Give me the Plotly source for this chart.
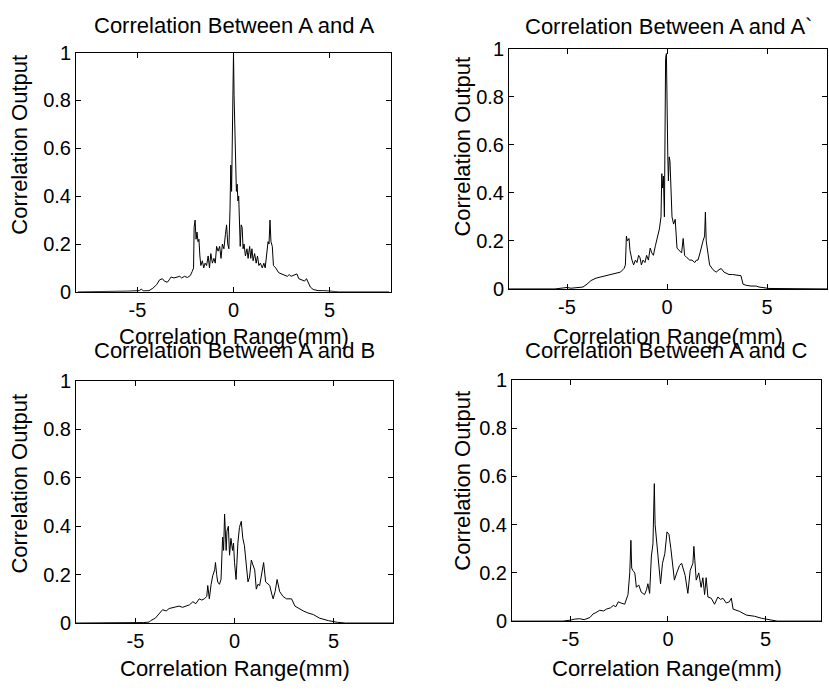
import plotly.graph_objects as go

# ---------------- data ----------------
x_aa = [-8.1, -6.0, -5.5, -4.9, -4.8, -4.7, -4.4, -4.2, -4.0, -3.85, -3.7, -3.6, -3.45, -3.35,
        -3.25, -3.1, -2.95, -2.8, -2.7, -2.55, -2.4, -2.25, -2.15, -2.08, -2.05, -2.0, -1.95,
        -1.9, -1.85, -1.8, -1.75, -1.7, -1.62, -1.55, -1.48, -1.4, -1.32, -1.25, -1.18, -1.1,
        -1.02, -0.95, -0.88, -0.8, -0.72, -0.65, -0.58, -0.5, -0.42, -0.36, -0.3, -0.24, -0.18,
        -0.14, -0.1, -0.06, -0.03, 0.0, 0.03, 0.07, 0.11, 0.15, 0.19, 0.23, 0.27, 0.31, 0.35,
        0.4, 0.45, 0.5, 0.55, 0.62, 0.7, 0.76, 0.84, 0.9, 0.96, 1.02, 1.1, 1.18, 1.25, 1.32,
        1.4, 1.5, 1.58, 1.65, 1.75, 1.8, 1.85, 1.9, 1.95, 2.02, 2.08, 2.2, 2.35, 2.5, 2.65, 2.8,
        2.9, 3.0, 3.15, 3.3, 3.4, 3.55, 3.7, 3.8, 3.9, 4.0, 4.15, 4.4, 4.7, 5.0, 5.5, 8.1]
y_aa = [0.0, 0.0, 0.003, 0.005, 0.012, 0.004, 0.005, 0.015, 0.03, 0.05, 0.055, 0.045, 0.04, 0.05,
        0.062, 0.058, 0.062, 0.065, 0.058, 0.065, 0.06, 0.068, 0.085, 0.1, 0.27, 0.3, 0.22,
        0.25, 0.21, 0.22, 0.15, 0.11, 0.13, 0.1, 0.12, 0.11, 0.15, 0.1, 0.16, 0.12,
        0.14, 0.12, 0.19, 0.17, 0.19, 0.14, 0.2, 0.18, 0.24, 0.28, 0.2, 0.18, 0.35,
        0.53, 0.42, 0.6, 0.75, 1.0, 0.82, 0.72, 0.55, 0.42, 0.45, 0.38, 0.4, 0.22, 0.19,
        0.28, 0.27, 0.18, 0.2, 0.15, 0.18, 0.14, 0.19, 0.14, 0.18, 0.13, 0.16, 0.12, 0.15, 0.11,
        0.12, 0.1, 0.12, 0.1, 0.19, 0.21, 0.2, 0.3, 0.21, 0.19, 0.11, 0.1, 0.08, 0.075, 0.07, 0.065,
        0.072, 0.065, 0.07, 0.075, 0.055, 0.05, 0.045, 0.055, 0.04, 0.02, 0.01, 0.005, 0.005, 0.003, 0.0, 0.0]

x_aa2 = [-8.0, -5.6, -5.2, -5.0, -4.8, -4.5, -4.2, -4.0, -3.8, -3.55, -3.3, -3.05, -2.8, -2.55,
         -2.33, -2.15, -2.08, -2.03, -1.98, -1.9, -1.85, -1.75, -1.67, -1.58, -1.5, -1.42, -1.35,
         -1.28, -1.2, -1.1, -1.02, -0.93, -0.84, -0.76, -0.68, -0.58, -0.48, -0.38, -0.3, -0.26,
         -0.22, -0.18, -0.13, -0.07, -0.03, 0.0, 0.04, 0.07, 0.11, 0.15, 0.2, 0.25, 0.33, 0.41,
         0.5, 0.6, 0.73, 0.81, 0.88, 1.0, 1.14, 1.25, 1.39, 1.47, 1.55, 1.65, 1.72, 1.8, 1.88,
         1.92, 1.96, 2.04, 2.13, 2.3, 2.46, 2.6, 2.71, 2.85, 2.96, 3.1, 3.28, 3.5, 3.7, 3.8, 3.96,
         4.2, 4.46, 4.6, 4.8, 5.1, 8.0]
y_aa2 = [0.0, 0.0, 0.004, 0.006, 0.003, 0.004, 0.008, 0.02, 0.035, 0.045, 0.05, 0.055, 0.06, 0.065,
         0.07, 0.085, 0.1, 0.22, 0.2, 0.21, 0.16, 0.12, 0.1, 0.12, 0.11, 0.14, 0.13,
         0.1, 0.12, 0.11, 0.14, 0.12, 0.17, 0.15, 0.14, 0.18, 0.21, 0.25, 0.3, 0.48,
         0.42, 0.47, 0.3, 0.96, 0.98, 0.7, 0.55, 0.45, 0.55, 0.53, 0.4, 0.3, 0.27, 0.29,
         0.17, 0.16, 0.15, 0.21, 0.14, 0.13, 0.12, 0.12, 0.11, 0.12, 0.12, 0.15, 0.18, 0.2, 0.22,
         0.32, 0.2, 0.16, 0.1, 0.08, 0.07, 0.08, 0.085, 0.07, 0.065, 0.06, 0.06, 0.058, 0.055, 0.02, 0.015,
         0.012, 0.012, 0.008, 0.005, 0.002, 0.0]

x_ab = [-8.0, -5.0, -4.6, -4.3, -4.23, -4.0, -3.8, -3.63, -3.45, -3.3, -3.05, -2.8, -2.62, -2.45,
        -2.28, -2.1, -1.95, -1.78, -1.65, -1.52, -1.4, -1.35, -1.27, -1.18, -1.1, -1.0, -0.96,
        -0.9, -0.85, -0.76, -0.68, -0.6, -0.55, -0.5, -0.46, -0.42, -0.38, -0.31, -0.25, -0.18,
        -0.1, -0.05, 0.0, 0.08, 0.17, 0.25, 0.34, 0.42, 0.5, 0.59, 0.68, 0.76, 0.85, 0.93, 1.02,
        1.1, 1.18, 1.27, 1.38, 1.47, 1.57, 1.68, 1.78, 1.88, 1.95, 2.05, 2.15, 2.28, 2.45, 2.62,
        2.75, 2.88, 3.05, 3.25, 3.47, 3.7, 3.98, 4.3, 4.74, 5.2, 5.6, 8.0]
y_ab = [0.0, 0.0, 0.002, 0.004, 0.01, 0.02, 0.04, 0.055, 0.05, 0.06, 0.065, 0.07, 0.065, 0.07,
        0.075, 0.088, 0.08, 0.1, 0.095, 0.1, 0.11, 0.155, 0.1, 0.16, 0.195, 0.22, 0.25,
        0.2, 0.17, 0.16, 0.18, 0.355, 0.3, 0.45, 0.32, 0.3, 0.38, 0.4, 0.28, 0.35,
        0.3, 0.33, 0.25, 0.18, 0.33, 0.395, 0.42, 0.35, 0.32, 0.23, 0.17, 0.19, 0.26, 0.24, 0.22,
        0.14, 0.16, 0.155, 0.2, 0.25, 0.17, 0.16, 0.155, 0.12, 0.1, 0.13, 0.18, 0.13, 0.11, 0.1,
        0.1, 0.1, 0.07, 0.06, 0.05, 0.042, 0.035, 0.02, 0.01, 0.003, 0.0, 0.0]

x_ac = [-8.0, -5.4, -5.0, -4.8, -4.53, -4.3, -4.0, -3.84, -3.7, -3.5, -3.3, -3.15, -2.95, -2.8,
        -2.67, -2.55, -2.4, -2.22, -2.05, -1.96, -1.9, -1.86, -1.8, -1.7, -1.62, -1.5, -1.37,
        -1.2, -1.1, -1.03, -0.94, -0.85, -0.77, -0.7, -0.66, -0.6, -0.54, -0.47, -0.38, -0.28,
        -0.16, -0.05, 0.05, 0.15, 0.24, 0.33, 0.45, 0.59, 0.7, 0.76, 0.88, 1.02, 1.14, 1.28, 1.33,
        1.38, 1.45, 1.58, 1.7, 1.79, 1.88, 1.96, 2.05, 2.22, 2.39, 2.56, 2.7, 2.82, 2.99, 3.15,
        3.25, 3.34, 3.68, 4.02, 4.45, 4.79, 5.2, 5.6, 8.0]
y_ac = [0.0, 0.0, 0.004, 0.008, 0.01, 0.006, 0.015, 0.03, 0.035, 0.045, 0.042, 0.05, 0.055, 0.065,
        0.06, 0.08, 0.075, 0.07, 0.11, 0.2, 0.335, 0.22, 0.21, 0.2, 0.14, 0.15, 0.12,
        0.11, 0.13, 0.155, 0.115, 0.27, 0.32, 0.57, 0.4, 0.35, 0.29, 0.24, 0.155, 0.24,
        0.28, 0.37, 0.36, 0.3, 0.24, 0.17, 0.2, 0.23, 0.24, 0.22, 0.19, 0.115, 0.21, 0.24, 0.31,
        0.25, 0.17, 0.2, 0.14, 0.18, 0.11, 0.18, 0.1, 0.095, 0.07, 0.1, 0.09, 0.095, 0.075, 0.08,
        0.095, 0.05, 0.04, 0.025, 0.02, 0.012, 0.005, 0.0, 0.0]

panel_titles = ["Correlation Between A and A", "Correlation Between A and A`",
                "Correlation Between A and B", "Correlation Between A and C"]
x_title = "Correlation Range(mm)"
y_title = "Correlation Output"
x_tick_vals = [-5, 0, 5]
x_tick_text = ["-5", "0", "5"]
y_tick_vals = [0, 0.2, 0.4, 0.6, 0.8, 1]
y_tick_text = ["0", "0.2", "0.4", "0.6", "0.8", "1"]

# ---------------- layout geometry (pixels) ----------------
W, H = 829, 697
FONT = "Arial, 'Liberation Sans', sans-serif"
boxes = [  # left, top, right, bottom of each plotting area
    (76, 43, 391, 290),
    (509, 39, 827, 287),
    (76, 382, 393, 632),
    (512, 381, 821, 630),
]
x_ranges = [[-8.2, 8.2], [-7.9, 8.0], [-8.0, 8.0], [-8.0, 7.85]]
title_y = [15, 16, 351, 351]
xtitle_y = [336, 336, 679, 679]
ytitle_y = [138, 140, 488, 485]
ytitle_x = [20, 463, 20, 463]

series = [(x_aa, y_aa), (x_aa2, y_aa2), (x_ab, y_ab), (x_ac, y_ac)]

fig = go.Figure()
annotations = []
for i, ((xs, ys), (l, t, r, b)) in enumerate(zip(series, boxes)):
    n = "" if i == 0 else str(i + 1)
    fig.add_trace(go.Scatter(x=xs, y=ys, mode="lines",
                             line=dict(color="black", width=1),
                             xaxis="x" + n, yaxis="y" + n, showlegend=False,
                             hoverinfo="skip"))
    common = dict(showline=True, linecolor="black", linewidth=1, mirror="ticks",
                  ticks="inside", ticklen=5, tickcolor="black", tickwidth=1,
                  showgrid=False, zeroline=False,
                  tickfont=dict(family=FONT, size=20, color="black"))
    fig.layout["xaxis" + n] = dict(domain=[l / W, r / W], range=x_ranges[i],
                                   tickvals=x_tick_vals, ticktext=x_tick_text,
                                   anchor="y" + n, **common)
    fig.layout["yaxis" + n] = dict(domain=[1 - b / H, 1 - t / H], range=[0, 1],
                                   tickvals=y_tick_vals, ticktext=y_tick_text,
                                   anchor="x" + n, **common)
    cx = (l + r) / 2
    annotations.append(dict(text=panel_titles[i], x=cx / W, y=1 - title_y[i] / H,
                            xref="paper", yref="paper", showarrow=False,
                            xanchor="center", yanchor="middle",
                            font=dict(family=FONT, size=22, color="black")))
    annotations.append(dict(text=x_title, x=cx / W, y=1 - xtitle_y[i] / H,
                            xref="paper", yref="paper", showarrow=False,
                            xanchor="center", yanchor="middle",
                            font=dict(family=FONT, size=22, color="black")))
    annotations.append(dict(text=y_title, x=ytitle_x[i] / W, y=1 - ytitle_y[i] / H,
                            xref="paper", yref="paper", showarrow=False, textangle=-90,
                            xanchor="center", yanchor="middle",
                            font=dict(family=FONT, size=22, color="black")))

fig.update_layout(width=W, height=H, margin=dict(l=0, r=0, t=0, b=0),
                  paper_bgcolor="white", plot_bgcolor="white",
                  annotations=annotations, showlegend=False)

fig.write_html("out.html", config={"displayModeBar": False},
               post_script="document.body.style.margin='0';")
